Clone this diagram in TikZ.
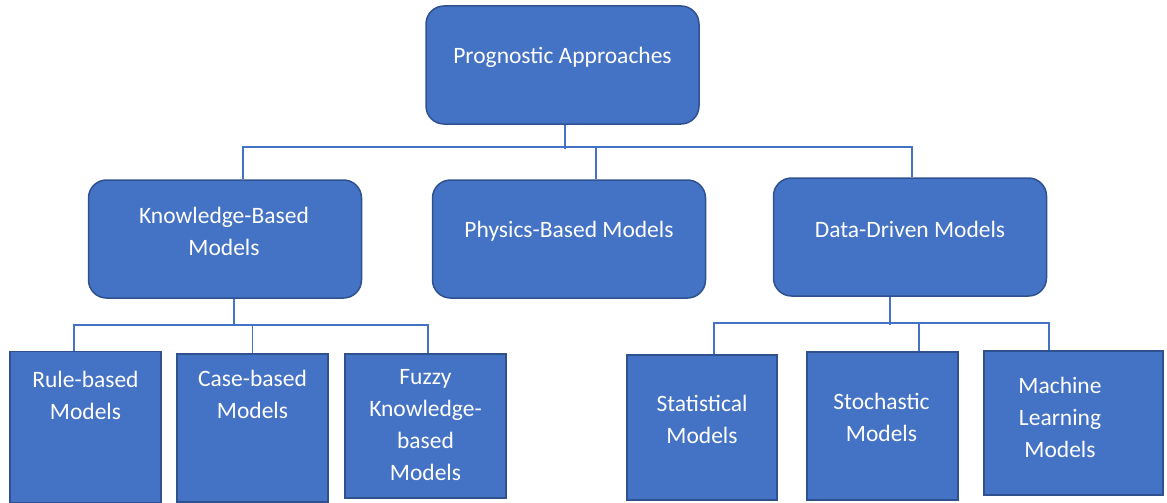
\documentclass[tikz,border=0pt]{standalone}
\usepackage{fontspec}
\setmainfont{Carlito}
\definecolor{boxblue}{HTML}{4472C4}
\definecolor{edgeblue}{HTML}{2F528F}
\begin{document}
\begin{tikzpicture}[
  x = 1pt,
  y = -1pt,
  group/.style = {
    shape = rectangle,
    rounded corners = 18pt,
    draw = edgeblue,
    fill = boxblue,
    line width = 1.5pt,
    inner sep = 0pt,
    minimum width = 273pt,
    minimum height = 118pt
  },
  leaf/.style = {
    shape = rectangle,
    draw = edgeblue,
    fill = boxblue,
    line width = 1.5pt,
    inner sep = 0pt
  },
  label/.style = {
    text = white,
    align = center,
    font = \fontsize{23.5}{32}\selectfont
  },
  link/.style = {
    draw = boxblue,
    line width = 1.8pt
  }
]
  \useasboundingbox (0, 0) rectangle (1167, 503);

  % first and second level
  \node[group] (top) at (562.5, 65) {};
  \node[group] (know) at (225, 239) {};
  \node[group] (phys) at (569, 239) {};
  \node[group] (data) at (910, 237) {};

  % leaves
  \node[leaf, minimum width = 151pt, minimum height = 151pt] (rule) at (85.5, 427) {};
  \node[leaf, minimum width = 151pt, minimum height = 148pt] (case) at (252.5, 428) {};
  \node[leaf, minimum width = 161pt, minimum height = 144pt] (fuzzy) at (425.5, 426) {};
  \node[leaf, minimum width = 150pt, minimum height = 145pt] (stat) at (702, 427.5) {};
  \node[leaf, minimum width = 151pt, minimum height = 148pt] (stoch) at (882.5, 426) {};
  \node[leaf, minimum width = 179pt, minimum height = 144pt] (mach) at (1073.5, 423) {};

  \node[label] (toptext) at (562.5, 57) {Prognostic Approaches};
  \node[label] (knowtext) at (224, 231) {Knowledge-Based\\Models};
  \node[label] (phystext) at (569, 231) {Physics-Based Models};
  \node[label] (datatext) at (910, 229) {Data-Driven Models};
  \node[label] (ruletext) at (85.5, 395.5) {Rule-based\\Models};
  \node[label] (casetext) at (252.5, 394.5) {Case-based\\Models};
  \node[label] (fuzzytext) at (425.5, 425) {Fuzzy\\Knowledge-\\based\\Models};
  \node[label] (stattext) at (702, 419) {Statistical\\Models};
  \node[label] (stochtext) at (881.5, 417.5) {Stochastic\\Models};
  \node[label] (machtext) at (1060, 417) {Machine\\Learning\\Models};

  \draw[link] ([xshift = 2.5pt]top.south) -- ++(0, 24);
  \draw[link] ([xshift = 18pt]know.north) -- ++(0, -32) -| ([xshift = 2pt]data.north);
  \draw[link] ([xshift = 27pt]phys.north) -- ++(0, -32);

  \draw[link] ([xshift = 9pt]know.south) -- ++(0, 27);
  \draw[link] ([xshift = -11.5pt]rule.north) -- ++(0, -26) -| ([xshift = 2.5pt]fuzzy.north);
  \draw[link] (case.north) -- ++(0, -29);

  \draw[link] ([xshift = -20pt]data.south) -- ++(0, 28);
  \draw[link] ([xshift = 12pt]stat.north) -- ++(0, -31) -| ([xshift = -24.5pt]mach.north);
  \draw[link] ([xshift = 36.5pt]stoch.north) -- ++(0, -28);
\end{tikzpicture}
\end{document}
